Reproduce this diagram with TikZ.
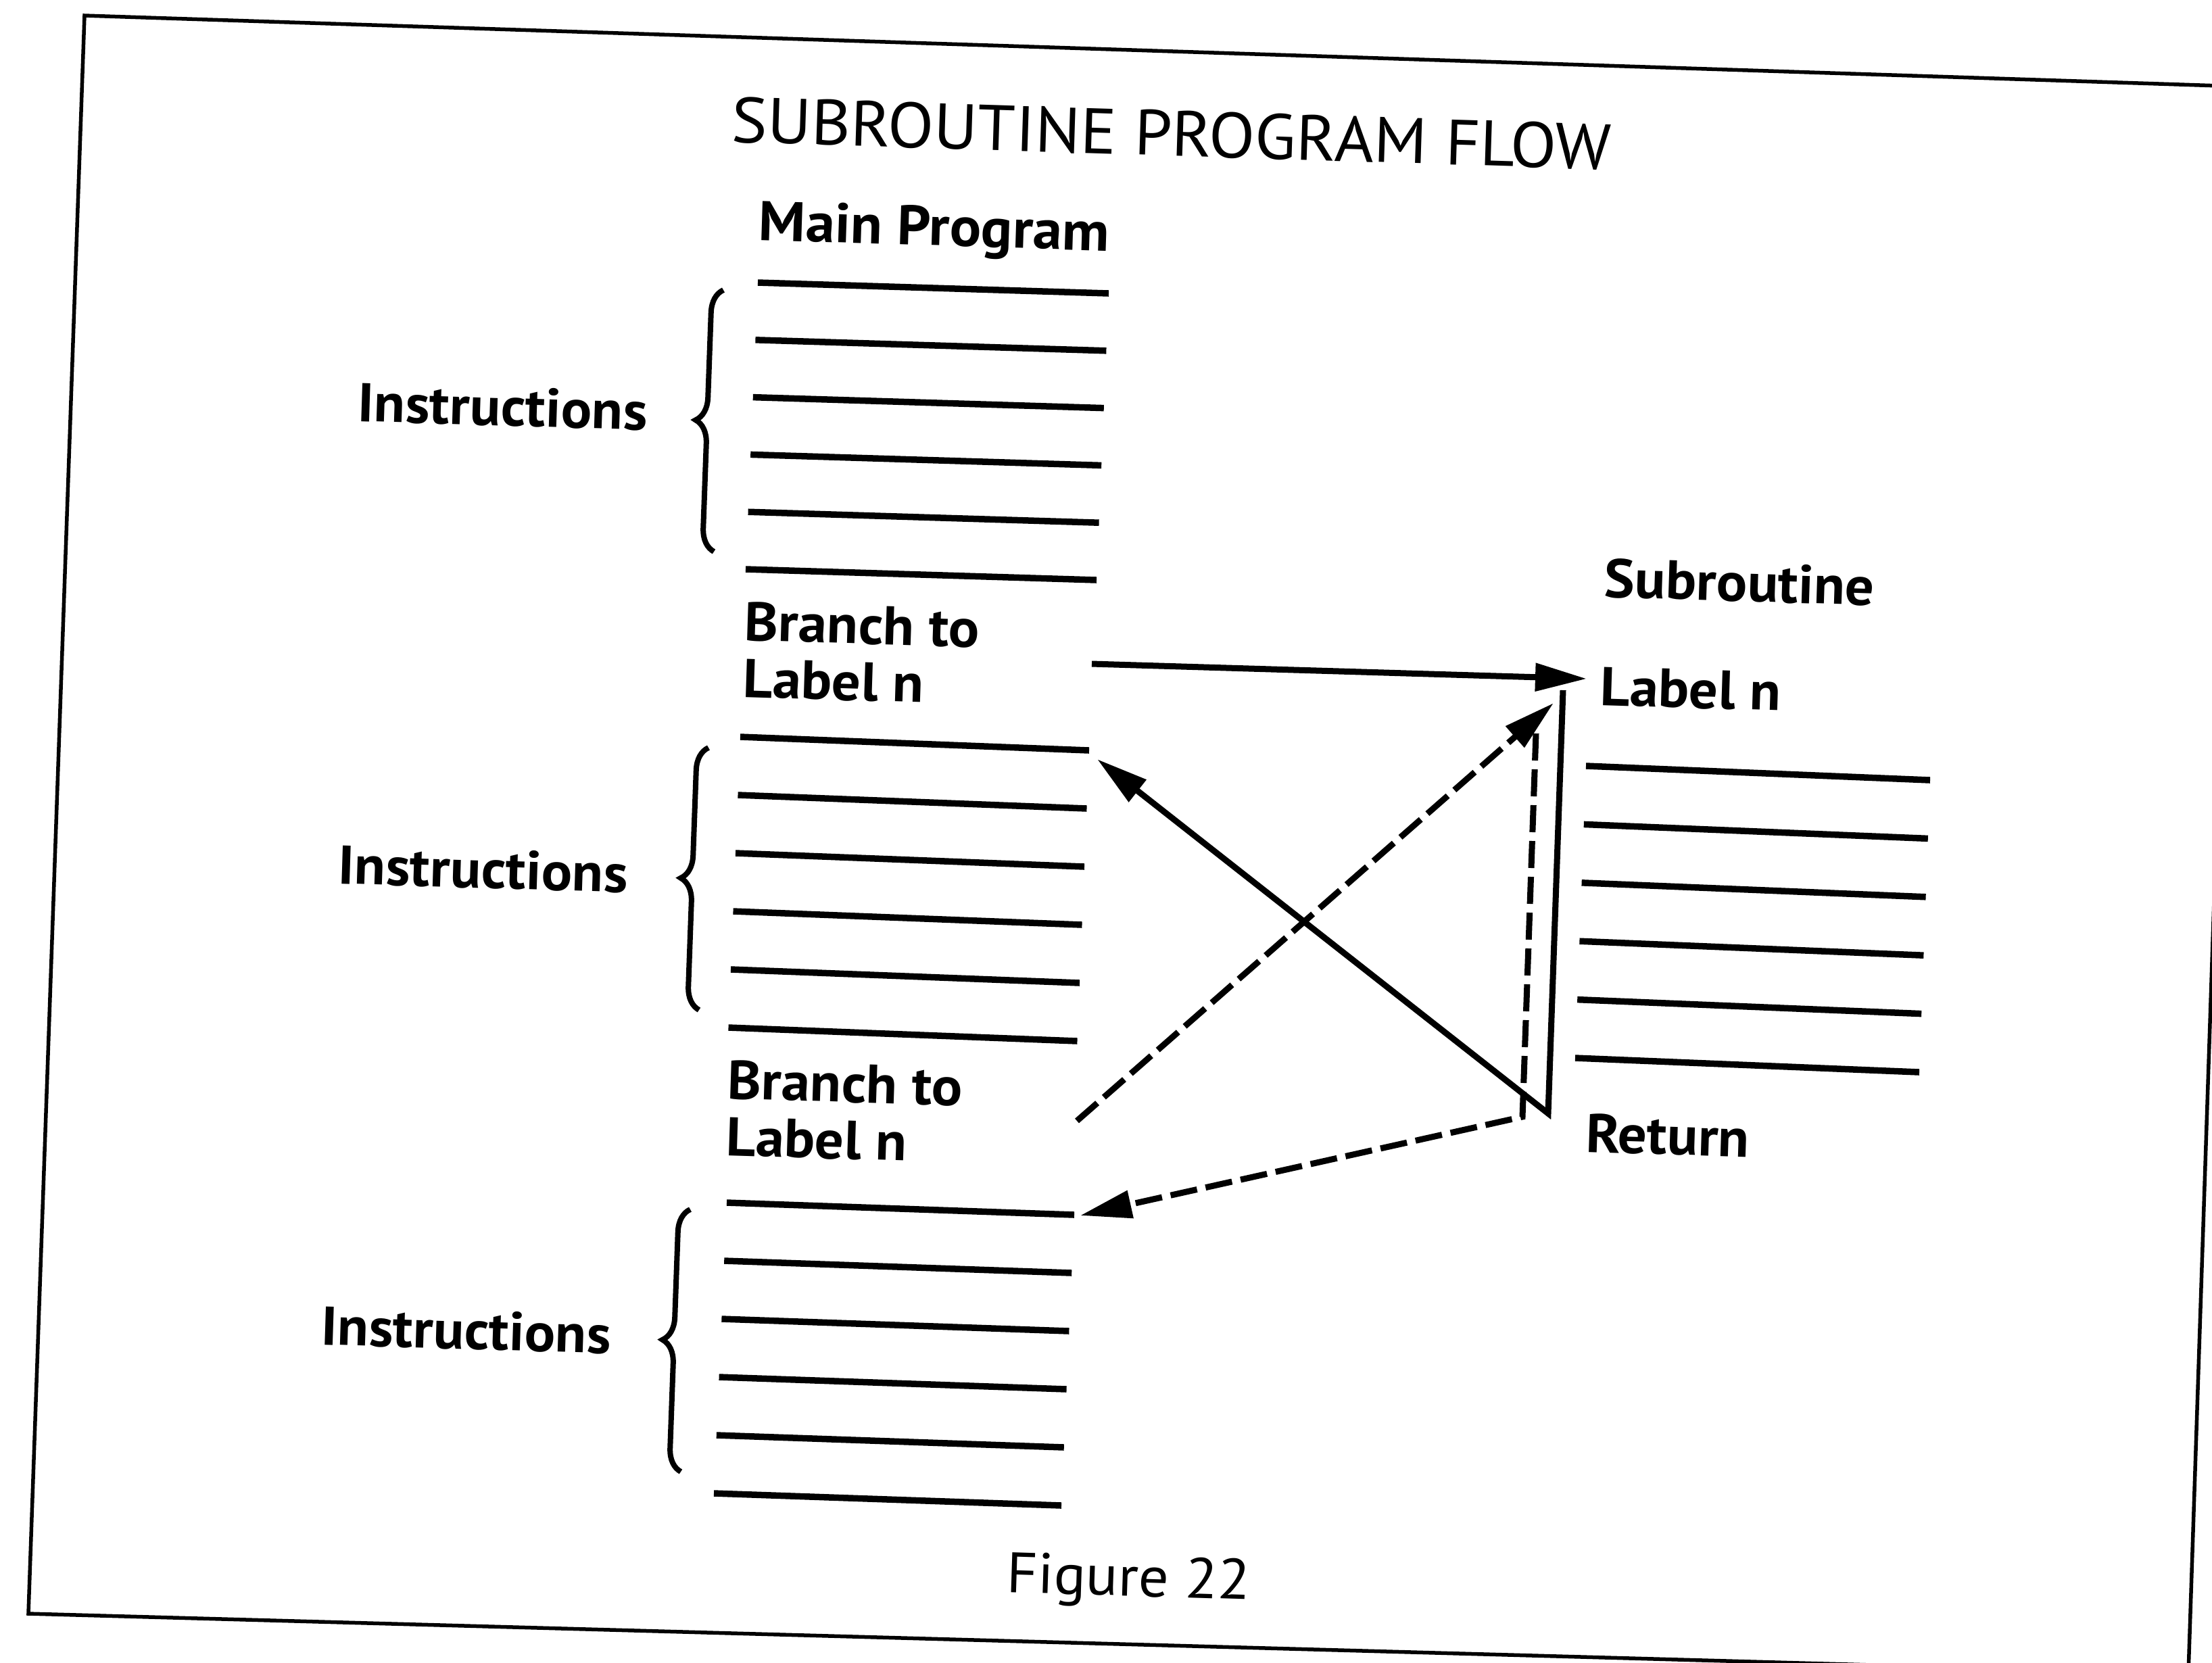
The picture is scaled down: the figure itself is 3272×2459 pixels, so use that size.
\documentclass[tikz,border=0pt]{standalone}
\usepackage{fontspec}
\setmainfont{PT Sans}[FakeStretch=1.05]
\usetikzlibrary{arrows.meta,decorations.pathreplacing}
\begin{document}
\begin{tikzpicture}[x=0.01cm,y=-0.01cm,
  bar/.style={line width=0.095cm},
  conn/.style={line width=0.09cm},
  dashconn/.style={line width=0.09cm, dash pattern=on 0.4cm off 0.13cm},
  >={Triangle[length=0.76cm,width=0.40cm]},
  lbl/.style={font=\fontsize{23}{28}\selectfont\bfseries, anchor=base west, inner sep=0pt, rotate=-1.8},
  ttl/.style={font=\fontsize{27}{30}\selectfont, anchor=base west, inner sep=0pt, rotate=-1.8},
  cbrace/.style={line width=0.08cm, decorate, decoration={brace, amplitude=0.34cm}},
  frame/.style={line width=0.055cm}]
\useasboundingbox (0,0) rectangle (3272,2459);
\fill[white] (0,0) rectangle (3272,2459);
% frame (scanned page, slightly rotated)
\begin{scope}
\clip (0,0) rectangle (3272,2459);
\draw[frame] (125,23) -- (3315,128) -- (3237,2476) -- (42,2387) -- cycle;
\end{scope}
% texts
\node[ttl] (title) at (1081,210) {SUBROUTINE PROGRAM FLOW};
\node[lbl, font=\fontsize{23.5}{28}\selectfont\bfseries] (main) at (1121,355) {Main Program};
\node[lbl] (ins1) at (528,623) {Instructions};
\node[lbl] (br1a) at (1100,947) {Branch to};
\node[lbl] (br1b) at (1098,1031) {Label n};
\node[lbl] (sub) at (2372,883) {Subroutine};
\node[lbl] (lbn) at (2366,1043) {Label n};
\node[lbl] (ret) at (2345,1704) {Return};
\node[lbl] (ins2) at (499,1307) {Instructions};
\node[lbl] (br2a) at (1075,1625) {Branch to};
\node[lbl] (br2b) at (1073,1709) {Label n};
\node[lbl] (ins3) at (474,1989) {Instructions};
\node[ttl, font=\fontsize{24}{28}\selectfont] (fig) at (1488,2355) {Figure 22};
% instruction bars
\foreach \i in {0,...,5} {
  \draw[bar] ({1121-3.6*\i},{418+84.8*\i}) -- ({1640-3.6*\i},{434+84.8*\i});
  \draw[bar] ({1095-3.5*\i},{1090+86*\i}) -- ({1611-3.5*\i},{1110+86*\i});
  \draw[bar] ({1075-3.8*\i},{1779+86*\i}) -- ({1589-3.8*\i},{1797+86*\i});
  \draw[bar] ({2346-3.2*\i},{1133+86.4*\i}) -- ({2855-3.2*\i},{1154+86.4*\i});
}
% braces
\draw[cbrace] (1056,816) -- (1070,429);
\draw[cbrace] (1034,1494) -- (1048,1106);
\draw[cbrace] (1007,2177) -- (1021,1789);
% connector points
\coordinate (b1out) at (1615,982);
\coordinate (lblin) at (2347,1004);
\coordinate (subtop) at (2312,1021);
\coordinate (retpt) at (2290,1647);
\coordinate (back1) at (1623,1123);
\coordinate (b2out) at (1593,1658);
\coordinate (lblin2) at (2298,1040);
\coordinate (subtop2) at (2272,1085);
\coordinate (retpt2) at (2252,1652);
\coordinate (back2) at (1598,1798);
% connectors
\draw[conn,->] (b1out) -- (lblin);
\draw[conn,->] (subtop) -- (retpt) -- (back1);
\draw[dashconn,->] (b2out) -- (lblin2);
\draw[dashconn,->] (subtop2) -- (retpt2) -- (back2);
\end{tikzpicture}
\end{document}
